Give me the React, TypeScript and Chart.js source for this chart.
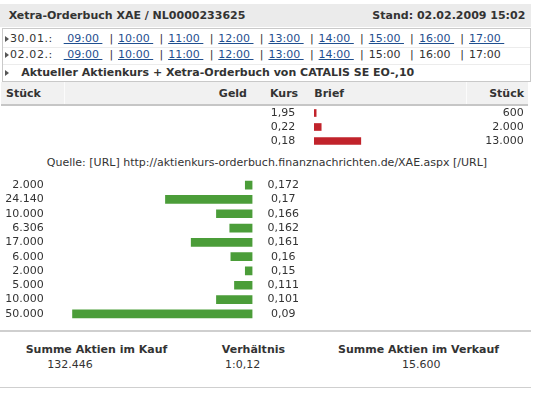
import React, { useEffect, useRef } from "react";
import { Chart, registerables } from "chart.js";

Chart.register(...registerables);

const titleText = "Xetra-Orderbuch XAE / NL0000233625";
const standText = "Stand: 02.02.2009 15:02";
const times = ["09:00", "10:00", "11:00", "12:00", "13:00", "14:00", "15:00", "16:00", "17:00"];
const days = ["30.01.:", "02.02.:"];
const linkedCounts = [9, 6];
const companyLine = "Aktueller Aktienkurs + Xetra-Orderbuch von CATALIS SE EO-,10";
const headers = ["Stück", "Geld", "Kurs", "Brief", "Stück"];

const sellPrices = ["1,95", "0,22", "0,18"];
const sellVolumes = [600, 2000, 13000];

const buyVolumes = [2000, 24140, 10000, 6306, 17000, 6000, 2000, 5000, 10000, 50000];
const buyPrices = ["0,172", "0,17", "0,166", "0,162", "0,161", "0,16", "0,15", "0,111", "0,101", "0,09"];

const sourceText = "Quelle: [URL] http://aktienkurs-orderbuch.finanznachrichten.de/XAE.aspx [/URL]";
const sumLabels = ["Summe Aktien im Kauf", "Verhältnis", "Summe Aktien im Verkauf"];
const sumValues = ["132.446", "1:0,12", "15.600"];

const GREEN = "#4b9d39";
const RED = "#c1232b";
const TEXT = "#333333";
const LINK = "#1f4f8f";
const FONT = "'DejaVu Sans', Verdana, sans-serif";

const fmt = (n: number) => String(n).replace(/\B(?=(\d{3})+(?!\d))/g, ".");
const MAXV = Math.max(...buyVolumes, ...sellVolumes);

Chart.defaults.font.family = FONT;
Chart.defaults.font.size = 11;
Chart.defaults.color = TEXT;

const fixAxis = (width: number) => (s: any) => {
  s.width = width;
  s.paddingTop = 0;
  s.paddingBottom = 0;
};

function BuyChart() {
  const ref = useRef<HTMLCanvasElement | null>(null);
  useEffect(() => {
    if (!ref.current) return;
    const c = new Chart(ref.current, {
      type: "bar",
      data: {
        labels: buyVolumes.map(fmt),
        datasets: [{ data: buyVolumes, backgroundColor: GREEN, barThickness: 8, yAxisID: "y" }],
      },
      options: {
        indexAxis: "y",
        animation: false,
        responsive: false,
        maintainAspectRatio: false,
        layout: { padding: 0 },
        plugins: { legend: { display: false }, tooltip: { enabled: false } },
        scales: {
          x: { display: false, reverse: true, min: 0, max: MAXV },
          y: {
            position: "left",
            offset: true,
            grid: { display: false, drawTicks: false },
            border: { display: false },
            ticks: { padding: 28.5, autoSkip: false, color: TEXT, font: { size: 11, family: FONT } },
            afterFit: fixAxis(72.2),
          },
          y2: {
            type: "category",
            position: "right",
            labels: buyPrices,
            offset: true,
            grid: { display: false, drawTicks: false },
            border: { display: false },
            ticks: { padding: 15, autoSkip: false, crossAlign: "center", color: TEXT, font: { size: 11, family: FONT } },
            afterFit: fixAxis(320 - 252.5),
          },
        },
      } as any,
    });
    return () => c.destroy();
  }, []);
  return (
    <canvas ref={ref} width={320} height={143}
      style={{ position: "absolute", left: 0, top: 178, width: 320, height: 143 }} />
  );
}

function SellChart() {
  const ref = useRef<HTMLCanvasElement | null>(null);
  useEffect(() => {
    if (!ref.current) return;
    const c = new Chart(ref.current, {
      type: "bar",
      data: {
        labels: sellPrices,
        datasets: [{ data: sellVolumes, backgroundColor: RED, barThickness: 7, yAxisID: "y" }],
      },
      options: {
        indexAxis: "y",
        animation: false,
        responsive: false,
        maintainAspectRatio: false,
        layout: { padding: 0 },
        plugins: { legend: { display: false }, tooltip: { enabled: false } },
        scales: {
          x: { display: false, min: 0, max: MAXV },
          y: {
            position: "left",
            offset: true,
            grid: { display: false, drawTicks: false },
            border: { display: false },
            ticks: { padding: 18.7, autoSkip: false, color: TEXT, font: { size: 11, family: FONT } },
            afterFit: fixAxis(314 - 260),
          },
          y2: {
            type: "category",
            position: "right",
            labels: sellVolumes.map(fmt),
            offset: true,
            grid: { display: false, drawTicks: false },
            border: { display: false },
            ticks: { padding: 29.7, mirror: true, autoSkip: false, crossAlign: "near", color: TEXT, font: { size: 11, family: FONT } },
            afterFit: fixAxis(34),
          },
        },
      } as any,
    });
    return () => c.destroy();
  }, []);
  return (
    <canvas ref={ref} width={268} height={42}
      style={{ position: "absolute", left: 260, top: 105.5, width: 268, height: 42 }} />
  );
}

const txt = (x: number, cy: number, s: string, extra: React.CSSProperties = {}) => (
  <div style={{
    position: "absolute", left: x, top: cy - 7, height: 14, lineHeight: "14px",
    whiteSpace: "nowrap", fontSize: 11, color: TEXT, ...extra,
  }}>{s}</div>
);
const rtxt = (right: number, cy: number, s: string, extra: React.CSSProperties = {}) => (
  <div style={{
    position: "absolute", right: 534 - right, top: cy - 7, height: 14, lineHeight: "14px",
    whiteSpace: "nowrap", fontSize: 11, color: TEXT, textAlign: "right", ...extra,
  }}>{s}</div>
);
const ctxt = (cx: number, cy: number, s: string, extra: React.CSSProperties = {}) => (
  <div style={{
    position: "absolute", left: cx - 300, width: 600, top: cy - 7, height: 14, lineHeight: "14px",
    whiteSpace: "nowrap", fontSize: 11, color: TEXT, textAlign: "center", ...extra,
  }}>{s}</div>
);
const tri = (x: number, cy: number) => (
  <div style={{
    position: "absolute", left: x, top: cy - 3, width: 0, height: 0,
    borderLeft: "4px solid #555", borderTop: "3px solid transparent", borderBottom: "3px solid transparent",
  }} />
);
const hline = (x: number, y: number, w: number, color: string, h = 1) => (
  <div style={{ position: "absolute", left: x, top: y, width: w, height: h, background: color }} />
);

export default function App() {
  const rowsCy = [38.7, 54.7];
  return (
    <div style={{
      position: "fixed", left: 0, top: 0, width: 534, height: 398, background: "#fff",
      fontFamily: FONT, overflow: "hidden",
    }}>
      {/* title bar */}
      <div style={{ position: "absolute", left: 0, top: 4, width: 531, height: 23, background: "#ebebeb" }} />
      {txt(8.7, 15.5, titleText, { fontWeight: "bold" })}
      {rtxt(525.3, 15.5, standText, { fontWeight: "bold" })}

      {/* links box */}
      <div style={{
        position: "absolute", left: 1.5, top: 28, width: 527, height: 52,
        border: "1px solid #c9c9c9", boxSizing: "content-box",
      }} />
      {hline(2.5, 46.5, 527, "#ececec")}
      {hline(2.5, 63.5, 527, "#ececec")}
      {days.map((d, r) => (
        <React.Fragment key={d}>
          {tri(4.7, rowsCy[r])}
          {txt(10, rowsCy[r], d, { letterSpacing: 0.6 })}
          {times.map((t, i) => {
            const linked = i < linkedCounts[r];
            const x = i === 0 ? 63.7 : 118 + (i - 1) * 50.15;
            const label = i === 0 ? "\u00a0" + t + "\u00a0" : t + "\u00a0";
            return (
              <React.Fragment key={t}>
                {i > 0 && txt(109.5 + (i - 1) * 50.1, rowsCy[r], "|")}
                {txt(x, rowsCy[r], linked ? label : t, linked ? { color: LINK, textDecoration: "underline" } : {})}
              </React.Fragment>
            );
          })}
        </React.Fragment>
      ))}
      {tri(4.7, 72.7)}
      {txt(21.2, 72.7, companyLine, { fontWeight: "bold" })}

      {/* table header */}
      <div style={{ position: "absolute", left: 1, top: 82, width: 527, height: 22, background: "#f1f1f1" }} />
      {hline(1, 104, 527, "#c6c6c6", 1.5)}
      <div style={{ position: "absolute", left: 64, top: 82, width: 1, height: 22, background: "#fbfbfb" }} />
      <div style={{ position: "absolute", left: 465.5, top: 82, width: 1, height: 22, background: "#fbfbfb" }} />
      {txt(6, 93.7, headers[0], { fontWeight: "bold" })}
      {rtxt(247, 93.7, headers[1], { fontWeight: "bold" })}
      {txt(270, 93.7, headers[2], { fontWeight: "bold" })}
      {txt(314.3, 93.7, headers[3], { fontWeight: "bold" })}
      {rtxt(524, 93.7, headers[4], { fontWeight: "bold" })}

      <SellChart />

      {ctxt(267, 162.5, sourceText)}

      <BuyChart />

      {/* sums */}
      {hline(0, 330, 531, "#cfcfcf", 1.5)}
      {txt(25.7, 350, sumLabels[0], { fontWeight: "bold" })}
      {txt(47.2, 365, sumValues[0])}
      {txt(221.8, 350, sumLabels[1], { fontWeight: "bold" })}
      {txt(225, 365, sumValues[1])}
      {txt(338, 350, sumLabels[2], { fontWeight: "bold" })}
      {ctxt(421.3, 365, sumValues[2])}
      {hline(0, 386.5, 531, "#cfcfcf", 1.5)}
    </div>
  );
}
